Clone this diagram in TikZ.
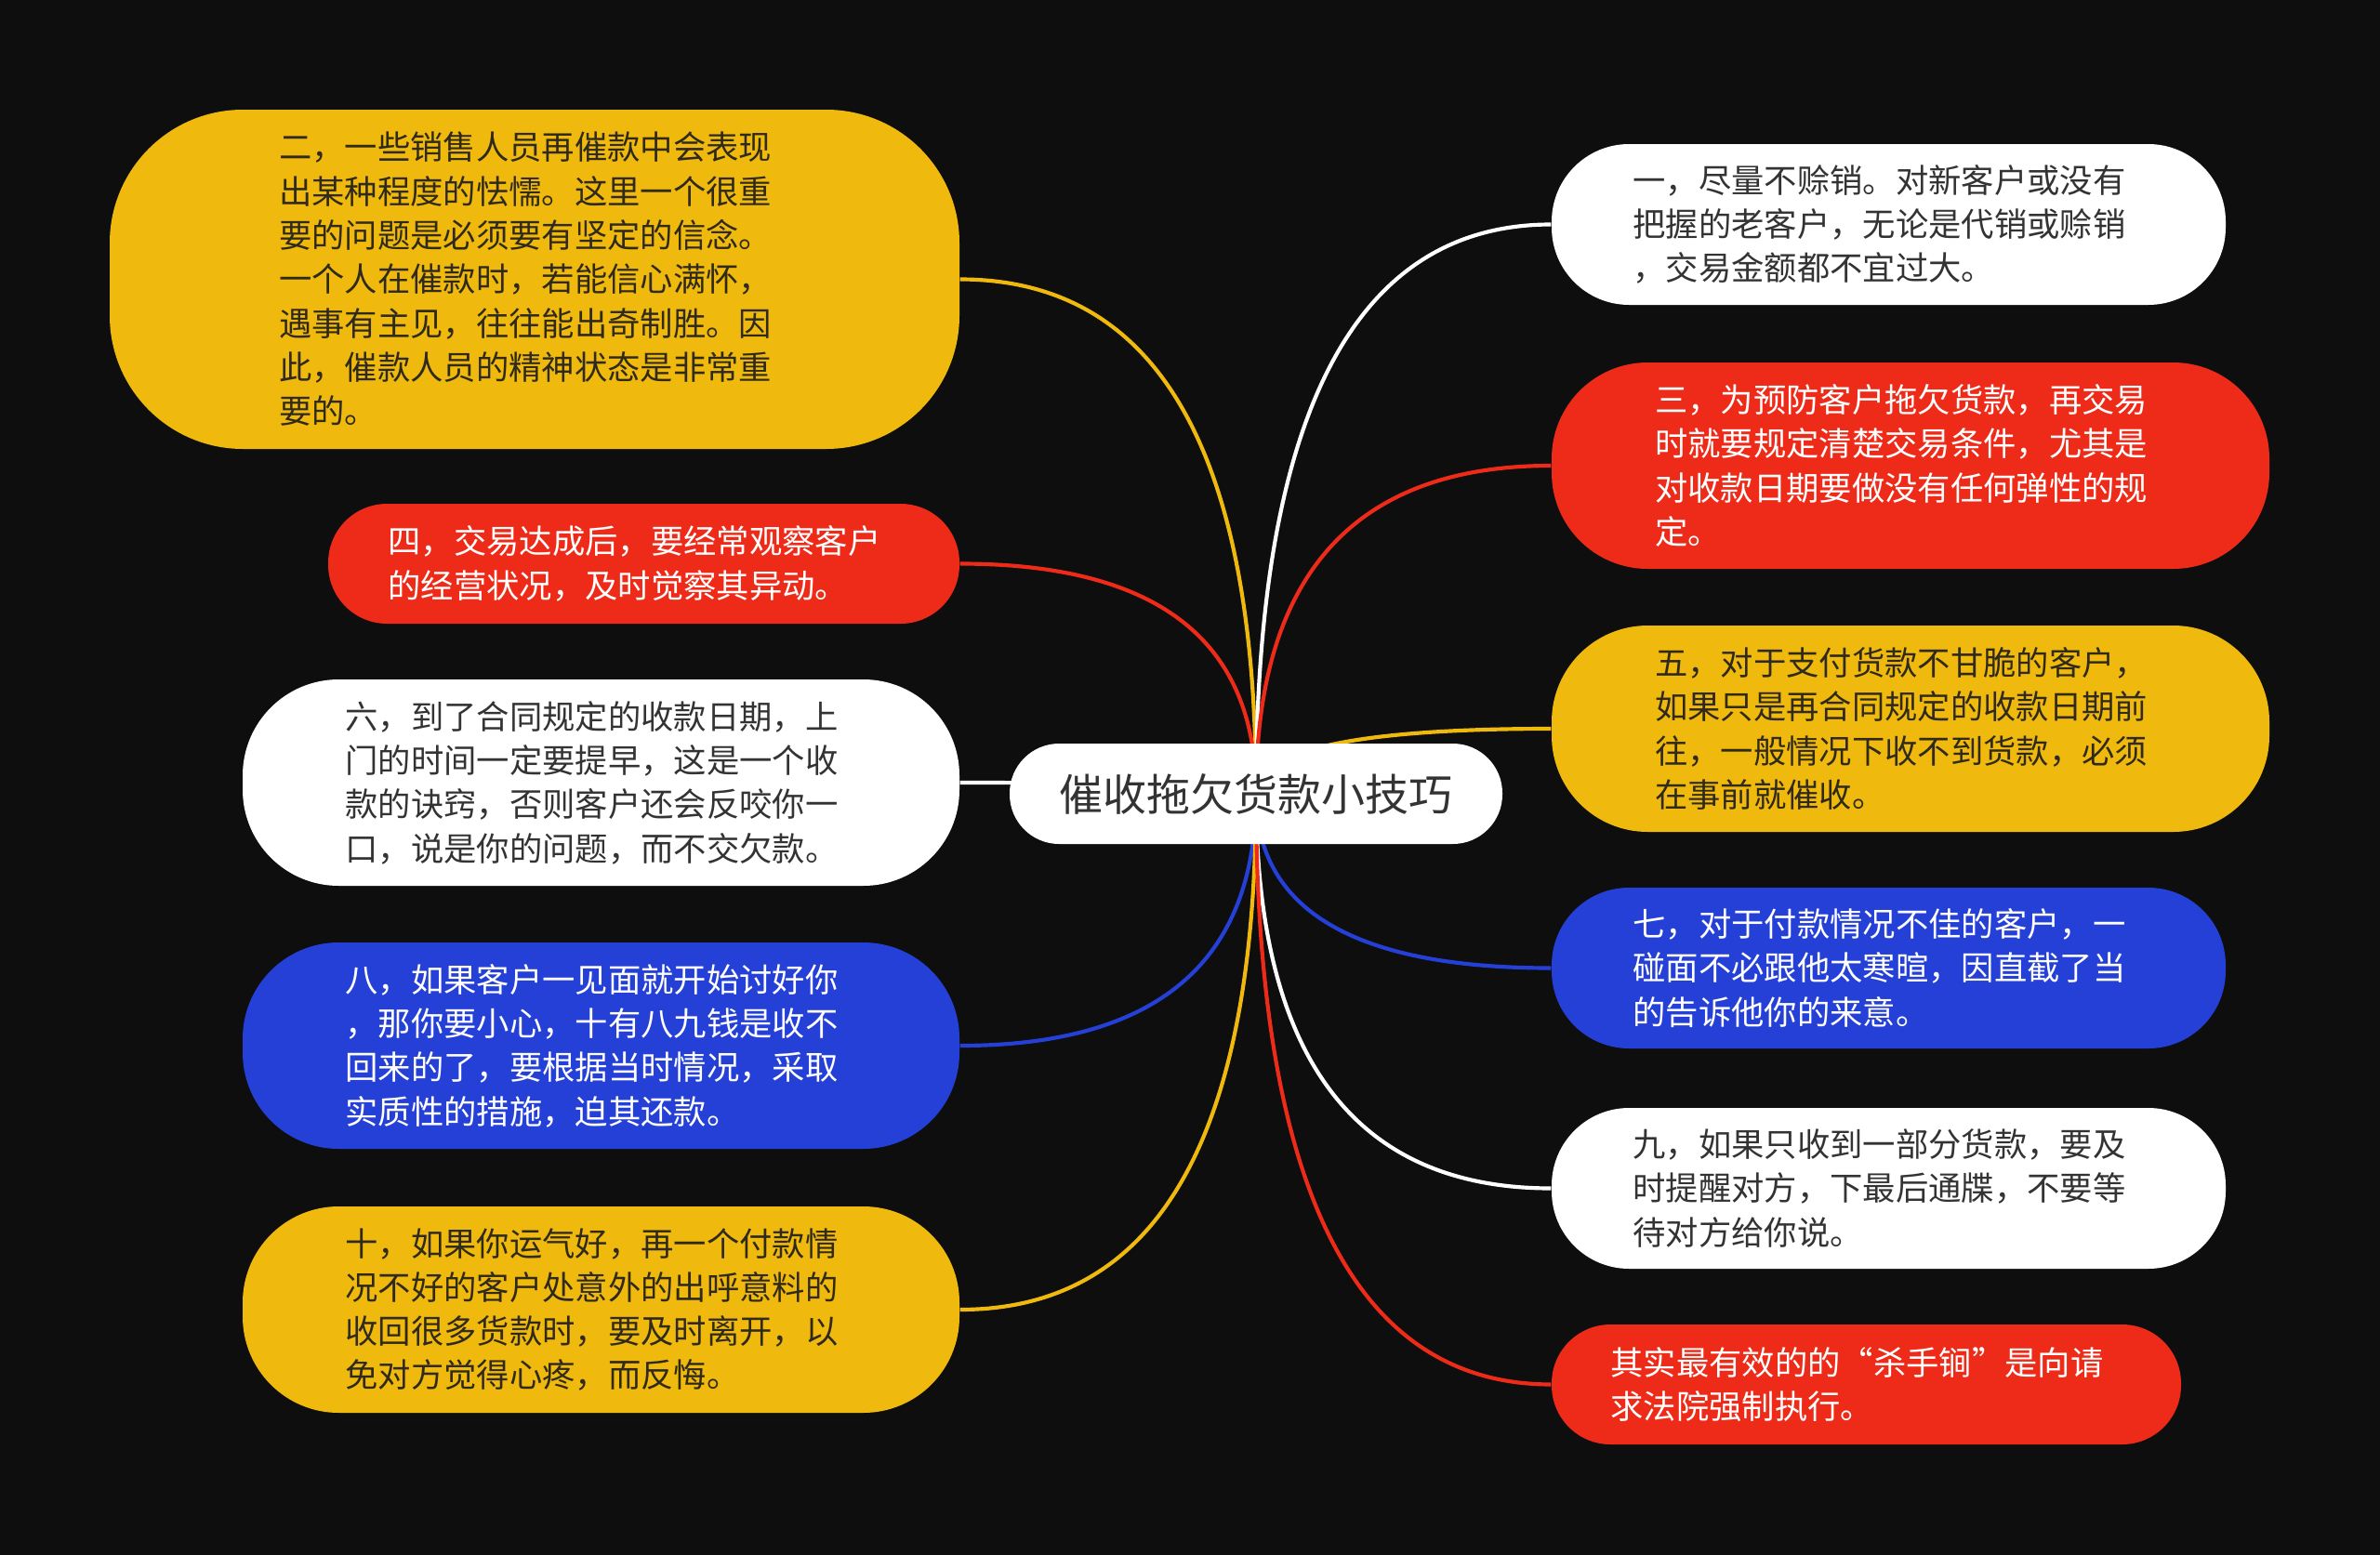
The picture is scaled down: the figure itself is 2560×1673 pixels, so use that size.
\documentclass[tikz,border=0pt]{standalone}
\usepackage{fontspec}
\newfontfamily\cjk{Noto Sans CJK SC}
\usetikzlibrary{calc}
\definecolor{bgc}{HTML}{0E0E0E}
\definecolor{cy}{HTML}{F0B90D}
\definecolor{cr}{HTML}{EE2B19}
\definecolor{cb}{HTML}{2440D6}
\definecolor{cw}{HTML}{FFFFFF}
\definecolor{tdark}{HTML}{333333}
\definecolor{tbrown}{HTML}{2F2A1C}
\pgfdeclarelayer{bg}\pgfdeclarelayer{lines}\pgfsetlayers{bg,lines,main}
\newcommand\linkto[2]{%
  \coordinate (kk) at (#1 -| ctr);
  \draw[link,#2] (#1) .. controls ($(#1)!0.6667!(kk)$) and ($(ctr)!0.6667!(kk)$) .. (ctr);}
\begin{document}
\begin{tikzpicture}[x=0.3pt,y=-0.3pt,
  box/.style={rectangle, align=left, text width=165pt, inner sep=0pt, font=\cjk\fontsize{10.6pt}{14.2pt}\selectfont},
  yel/.style={box, fill=cy, text=tbrown},
  red/.style={box, fill=cr, text=white},
  blu/.style={box, fill=cb, text=white},
  wht/.style={box, fill=cw, text=tdark},
  big/.style={minimum width=274.2pt, minimum height=109.5pt, rounded corners=43pt},
  lfour/.style={minimum width=231.3pt, minimum height=66.6pt, rounded corners=31pt},
  rfour/.style={minimum width=231.6pt, minimum height=66.6pt, rounded corners=31pt},
  rthree/.style={minimum width=217.5pt, minimum height=51.9pt, rounded corners=25pt},
  two/.style={minimum height=38.7pt, rounded corners=19pt},
  link/.style={line width=1.25pt}]
\useasboundingbox (0,0) rectangle (2560,1673);
\begin{pgfonlayer}{bg}
\fill[bgc] (0,0) rectangle (2560,1673);
\end{pgfonlayer}

\node[rectangle, fill=cw, text=tdark, align=center, minimum width=159pt, minimum height=32.4pt, rounded corners=16pt,
  font=\cjk\fontsize{14.1pt}{17pt}\selectfont] (c) at (1351,854) {催收拖欠货款小技巧};
\coordinate (ctr) at (1351,854);

% left side
\node[yel, big] (n2) at (575,300.5) {二，一些销售人员再催款中会表现\\出某种程度的怯懦。这里一个很重\\要的问题是必须要有坚定的信念。\\一个人在催款时，若能信心满怀，\\遇事有主见，往往能出奇制胜。因\\此，催款人员的精神状态是非常重\\要的。};
\node[red, two, minimum width=203.7pt] (n4) at (692.5,606.5) {四，交易达成后，要经常观察客户\\的经营状况，及时觉察其异动。};
\node[wht, lfour] (n6) at (646.5,842) {六，到了合同规定的收款日期，上\\门的时间一定要提早，这是一个收\\款的诀窍，否则客户还会反咬你一\\口，说是你的问题，而不交欠款。};
\node[blu, lfour] (n8) at (646.5,1125) {八，如果客户一见面就开始讨好你\\，那你要小心，十有八九钱是收不\\回来的了，要根据当时情况，采取\\实质性的措施，迫其还款。};
\node[yel, lfour] (n10) at (646.5,1409) {十，如果你运气好，再一个付款情\\况不好的客户处意外的出呼意料的\\收回很多货款时，要及时离开，以\\免对方觉得心疼，而反悔。};

% right side
\node[wht, rthree] (n1) at (2031.5,241.5) {一，尽量不赊销。对新客户或没有\\把握的老客户，无论是代销或赊销\\，交易金额都不宜过大。};
\node[red, rfour] (n3) at (2055,501) {三，为预防客户拖欠货款，再交易\\时就要规定清楚交易条件，尤其是\\对收款日期要做没有任何弹性的规\\定。};
\node[yel, rfour] (n5) at (2055,784) {五，对于支付货款不甘脆的客户，\\如果只是再合同规定的收款日期前\\往，一般情况下收不到货款，必须\\在事前就催收。};
\node[blu, rthree] (n7) at (2031.5,1041.5) {七，对于付款情况不佳的客户，一\\碰面不必跟他太寒暄，因直截了当\\的告诉他你的来意。};
\node[wht, rthree] (n9) at (2031.5,1278.5) {九，如果只收到一部分货款，要及\\时提醒对方，下最后通牒，不要等\\待对方给你说。};
\node[red, two, minimum width=203.1pt] (n11) at (2007.5,1489.5) {其实最有效的的“杀手锏”是向请\\求法院强制执行。};

\begin{pgfonlayer}{lines}
\linkto{n2.east}{cy}
\linkto{n4.east}{cr}
\linkto{n6.east}{cw}
\linkto{n8.east}{cb}
\linkto{n10.east}{cy}
\linkto{n1.west}{cw}
\linkto{n3.west}{cr}
\linkto{n5.west}{cy}
\linkto{n7.west}{cb}
\linkto{n9.west}{cw}
\linkto{n11.west}{cr}
\end{pgfonlayer}
\end{tikzpicture}
\end{document}
